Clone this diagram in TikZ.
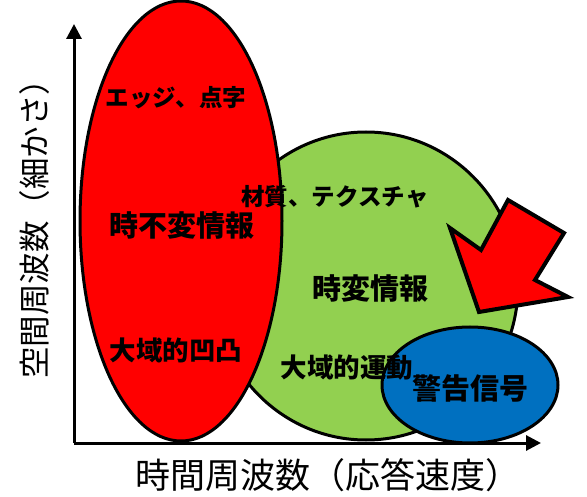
\documentclass[tikz,border=0pt]{standalone}
\usepackage{fontspec}
\newfontfamily\jp{Noto Sans CJK JP}
\usetikzlibrary{arrows.meta,shapes.geometric}
\definecolor{redf}{HTML}{FF0000}
\definecolor{greenf}{HTML}{92D050}
\definecolor{bluef}{HTML}{0070C0}
\tikzset{
  blob/.style={draw=black,line width=3pt,ellipse,inner sep=0pt},
  axis/.style={line width=3pt,-{Triangle[width=15pt,length=15pt]}},
  lbl/.style={font=\jp\bfseries\fontsize{#1}{#1}\selectfont,inner sep=0pt},
  axlbl/.style={font=\jp\fontsize{#1}{#1}\selectfont,inner sep=0pt},
}
\begin{document}
\begin{tikzpicture}[x=1pt,y=-1pt]
\useasboundingbox (0,0) rectangle (587,497);
\coordinate (o) at (74,443);
\coordinate (ytip) at (74,24);
\coordinate (xtip) at (541,443);
\draw[axis] (o) -- (ytip);
\draw[axis] (o) -- (xtip);
\node[blob,fill=greenf,minimum width=304pt,minimum height=308pt] (green) at (366,286) {};
\node[blob,fill=redf,minimum width=202pt,minimum height=440pt] (red) at (181,221) {};
\node[blob,fill=bluef,minimum width=176pt,minimum height=116pt] (blue) at (470,385) {};
\draw[line width=4pt,fill=redf,line join=miter] (479,312) -- (450,228) -- (481,250) -- (508,200) -- (564,233) -- (535,280) -- (568,297) -- cycle;
\node[lbl=23.5] (edge) at (176,98) {エッジ、点字};
\node[lbl=29] (tfi) at (182,225) {時不変情報};
\node[lbl=26.5] (bump) at (176,350) {大域的凹凸};
\node[lbl=23.5] (tex) at (335,197) {材質、テクスチャ};
\node[lbl=29] (tvi) at (370,288) {時変情報};
\node[lbl=26.5] (mot) at (347,368) {大域的運動};
\node[lbl=29] (warn) at (470,388) {警告信号};
\node[axlbl=35] (xl) at (328,475) {時間周波数（応答速度）};
\node[axlbl=31.5,rotate=90] (yl) at (35,221) {空間周波数（細かさ）};
\end{tikzpicture}
\end{document}
